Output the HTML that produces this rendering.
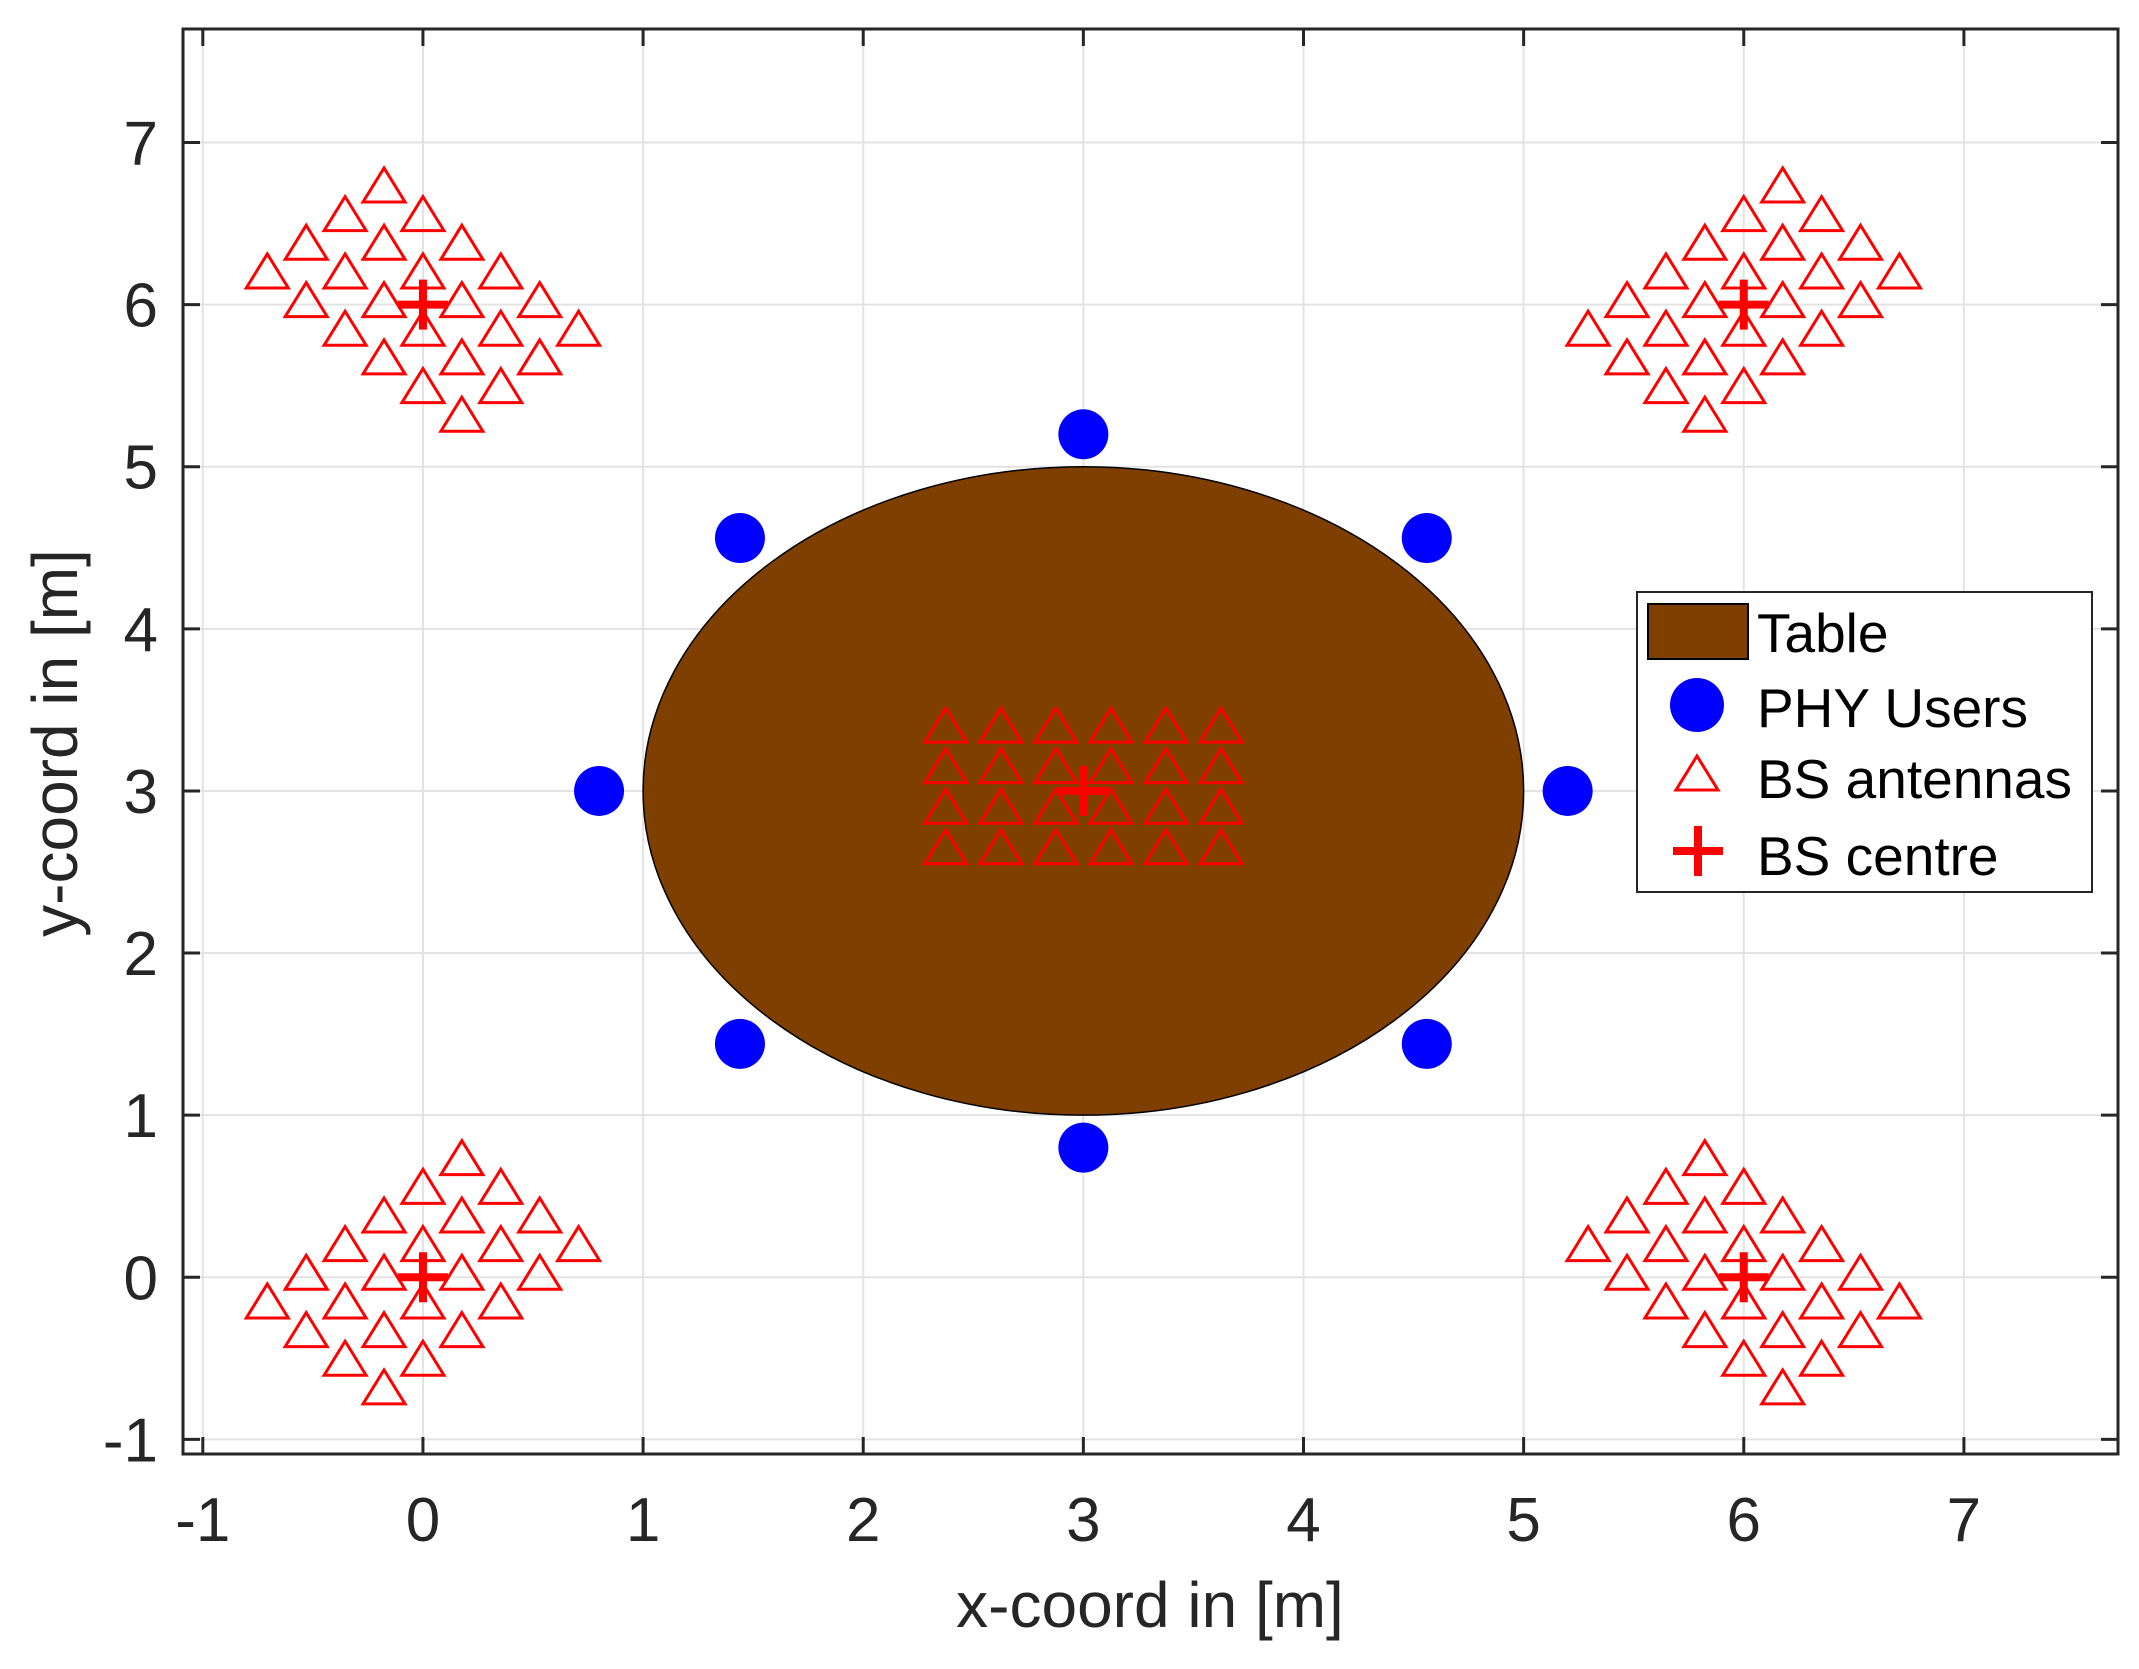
<!DOCTYPE html>
<html><head><meta charset="utf-8"><style>
html,body{margin:0;padding:0;background:#fff;}
svg{display:block;font-family:"Liberation Sans",Arial,sans-serif;}
</style></head><body>
<svg id="chart" width="2139" height="1669" viewBox="0 0 2139 1669" xmlns="http://www.w3.org/2000/svg">
<rect x="0" y="0" width="2139" height="1669" fill="#fff"/>
<g id="grid"></g>
<g id="marks"></g>
<g id="axes"></g>
<text x="1150" y="1627" font-size="64" text-anchor="middle" fill="#262626">x-coord in [m]</text>
<text transform="translate(77,743) rotate(-90)" font-size="64" text-anchor="middle" fill="#262626">y-coord in [m]</text>
<g>
<rect x="1637" y="592" width="455" height="300" fill="#fff" stroke="#262626" stroke-width="2"/>
<rect x="1648" y="604" width="100" height="55" fill="#7f3f00" stroke="#000" stroke-width="2"/>
<text x="1757" y="652" font-size="55" fill="#000">Table</text>
<circle cx="1697" cy="705" r="27" fill="#0000ff"/>
<text x="1757" y="727" font-size="55" fill="#000">PHY Users</text>
<polygon points="1697,756 1718,790 1676,790" fill="none" stroke="#ff0000" stroke-width="3"/>
<text x="1757" y="798" font-size="55" fill="#000">BS antennas</text>
<path d="M1673 851 H1723 M1698 826 V876" stroke="#ff0000" stroke-width="8"/>
<text x="1757" y="875" font-size="55" fill="#000">BS centre</text>
</g>
</svg>
<script>
const xTicks = [-1, 0, 1, 2, 3, 4, 5, 6, 7];
const yTicks = [-1, 0, 1, 2, 3, 4, 5, 6, 7];
const xTickLabels = ["-1","0","1","2","3","4","5","6","7"];
const yTickLabels = ["-1","0","1","2","3","4","5","6","7"];
const xDomain = [-1.09, 7.70];
const yDomain = [-1.09, 7.70];
const tableCentre = [3, 3];
const tableRadius = [2, 2];
const userX = [3, 4.56, 5.2, 4.56, 3, 1.44, 0.8, 1.44];
const userY = [5.2, 4.56, 3, 1.44, 0.8, 1.44, 3, 4.56];
const bsCentreX = [3, 0, 6, 0, 6];
const bsCentreY = [3, 6, 6, 0, 0];
const bsRotationDeg = [0, -45, 45, 45, -45];
const antennaColOffsets = [-0.625, -0.375, -0.125, 0.125, 0.375, 0.625];
const antennaRowOffsets = [0.375, 0.125, -0.125, -0.375];

const NS = "http://www.w3.org/2000/svg";
const L = 183, R = 2118, T = 29, B = 1454;
function sx(v){ return L + (v - xDomain[0]) / (xDomain[1] - xDomain[0]) * (R - L); }
function sy(v){ return B - (v - yDomain[0]) / (yDomain[1] - yDomain[0]) * (B - T); }
function mk(tag, attrs, parent){
  const e = document.createElementNS(NS, tag);
  for (const k in attrs) e.setAttribute(k, attrs[k]);
  parent.appendChild(e);
  return e;
}
const grid = document.getElementById('grid');
const marks = document.getElementById('marks');
const axes = document.getElementById('axes');

xTicks.forEach((t, i) => {
  const g = mk('line', {x1: sx(t), x2: sx(t), y1: T, y2: B, stroke: '#e3e3e3', 'stroke-width': 2}, grid);
  
  
});
yTicks.forEach((t, i) => {
  const g = mk('line', {x1: L, x2: R, y1: sy(t), y2: sy(t), stroke: '#e3e3e3', 'stroke-width': 2}, grid);
  
  
});

// table
const tbl = mk('ellipse', {cx: sx(tableCentre[0]), cy: sy(tableCentre[1]),
  rx: sx(tableCentre[0] + tableRadius[0]) - sx(tableCentre[0]),
  ry: sy(tableCentre[1]) - sy(tableCentre[1] + tableRadius[1]),
  fill: '#7f3f00', stroke: '#000', 'stroke-width': 1.5}, marks);



// users
userX.forEach((x, i) => {
  const c = mk('circle', {cx: sx(x), cy: sy(userY[i]), r: 25, fill: '#0000ff'}, marks);
  
  
});

// antennas
bsCentreX.forEach((cx, b) => {
  const th = bsRotationDeg[b] * Math.PI / 180;
  const cs = Math.cos(th), sn = Math.sin(th);
  antennaRowOffsets.forEach(v => {
    antennaColOffsets.forEach(u => {
      const x = cx + u * cs - v * sn;
      const y = bsCentreY[b] + u * sn + v * cs;
      const px = sx(x), py = sy(y) - 5;
      const p = mk('polygon', {points: `${px},${py-17} ${px+21},${py+17} ${px-21},${py+17}`,
        fill: 'none', stroke: '#ff0000', 'stroke-width': 3}, marks);
      
      
    });
  });
});
// centres
bsCentreX.forEach((cx, b) => {
  const px = sx(cx), py = sy(bsCentreY[b]);
  const p = mk('path', {d: `M${px-25} ${py} H${px+25} M${px} ${py-25} V${py+25}`, stroke: '#ff0000', 'stroke-width': 8}, marks);
  
  
});

// axes box
const box = mk('rect', {x: L, y: T, width: R - L, height: B - T, fill: 'none', stroke: '#262626', 'stroke-width': 3}, axes);


xTicks.forEach((t, i) => {
  const x = sx(t);
  const tk = mk('path', {d: `M${x} ${B} V${B-17} M${x} ${T} V${T+17}`, stroke: '#262626', 'stroke-width': 3}, axes);
  
  
  const lb = mk('text', {x: x, y: 1541, 'font-size': 62, 'text-anchor': 'middle', fill: '#262626'}, axes);
  lb.textContent = xTickLabels[i];
  
  
});
yTicks.forEach((t, i) => {
  const y = sy(t);
  const tk = mk('path', {d: `M${L} ${y} H${L+17} M${R} ${y} H${R-17}`, stroke: '#262626', 'stroke-width': 3}, axes);
  
  
  const lb = mk('text', {x: 158, y: y + 22, 'font-size': 62, 'text-anchor': 'end', fill: '#262626'}, axes);
  lb.textContent = yTickLabels[i];
  
  
});
</script>
</body></html>
